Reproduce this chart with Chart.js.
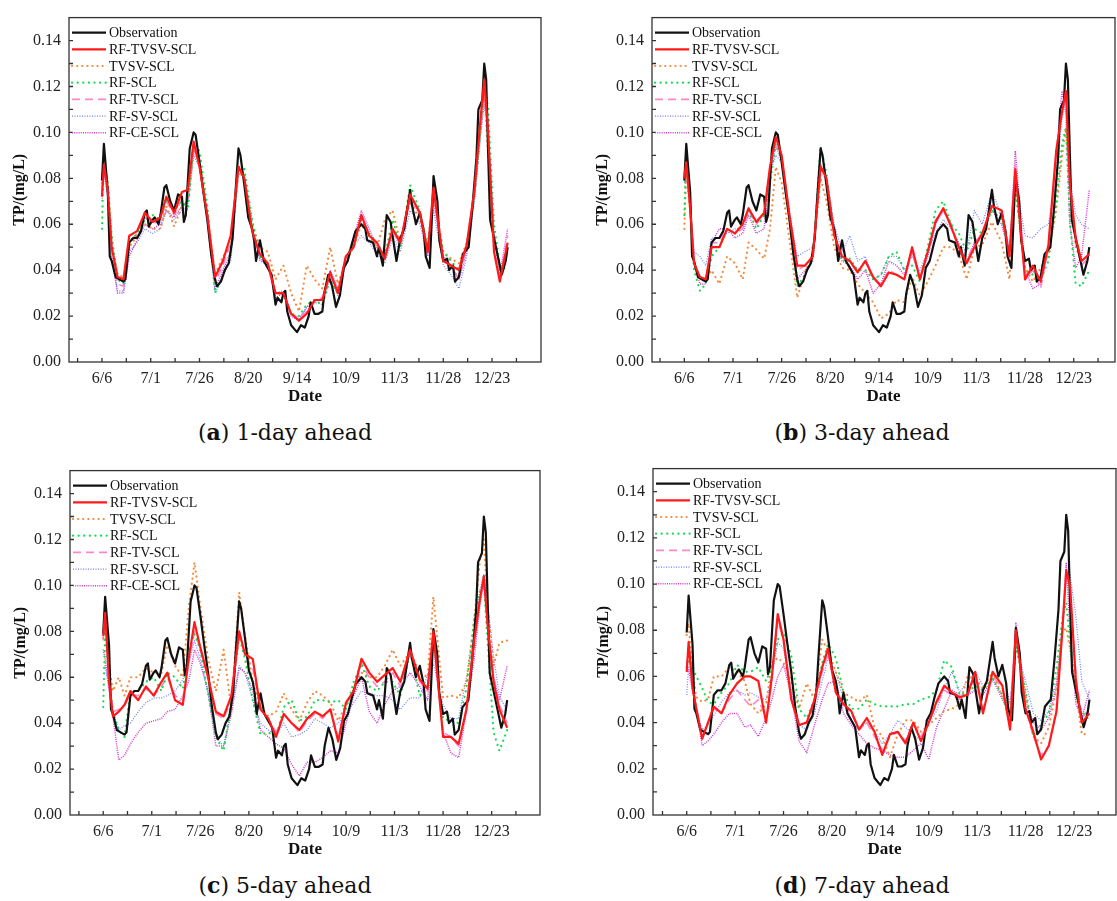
<!DOCTYPE html>
<html>
<head>
<meta charset="utf-8">
<script src="https://cdn.jsdelivr.net/npm/chart.js@4.4.0/dist/chart.umd.min.js"></script>
<style>
  body { margin: 0; background: #fff; width: 1117px; height: 901px; position: relative; overflow: hidden; }
  canvas { position: absolute; }
  .cap { position: absolute; font-family: 'DejaVu Serif', serif; font-size: 22px; color: #111;
         transform: translate(-50%, -50%); white-space: nowrap; }
</style>
</head>
<body>
<canvas id="pa"></canvas>
<canvas id="pb"></canvas>
<canvas id="pc"></canvas>
<canvas id="pd"></canvas>
<div class="cap" style="left:285px;top:432px">(<b>a</b>) 1-day ahead</div>
<div class="cap" style="left:862px;top:432px">(<b>b</b>) 3-day ahead</div>
<div class="cap" style="left:285px;top:885px">(<b>c</b>) 5-day ahead</div>
<div class="cap" style="left:862px;top:885px">(<b>d</b>) 7-day ahead</div>
<script>
// x values are days counted from 6/6
const tickDays = [0, 25, 50, 75, 100, 125, 150, 175, 200];
const tickLabels = ['6/6', '7/1', '7/26', '8/20', '9/14', '10/9', '11/3', '11/28', '12/23'];
const yTicks = [0, 0.02, 0.04, 0.06, 0.08, 0.10, 0.12, 0.14];

const obsDays = [0,1,3,4,5,7,9,11,12,13,14,16,18,20,22,23,24,26,27,29,30,32,33,35,37,39,41,42,43,45,47,48,50,52,54,56,58,59,61,63,65,67,68,70,71,73,75,77,78,79,81,83,85,87,89,90,92,93,94,95,97,99,100,102,104,106,107,109,111,113,114,116,118,120,122,124,126,128,130,133,135,136,139,141,142,144,146,148,149,151,153,155,158,159,161,163,165,166,168,169,170,172,173,175,177,178,180,181,183,185,188,190,192,193,195,196,197,198,199,201,203,205,207,208];
const obsVals = [0.079,0.095,0.074,0.046,0.044,0.037,0.036,0.035,0.036,0.044,0.052,0.054,0.054,0.057,0.065,0.066,0.059,0.062,0.063,0.060,0.064,0.076,0.077,0.070,0.066,0.073,0.072,0.061,0.064,0.093,0.100,0.099,0.087,0.074,0.062,0.047,0.036,0.033,0.035,0.040,0.043,0.054,0.068,0.093,0.090,0.077,0.063,0.058,0.053,0.044,0.053,0.044,0.041,0.038,0.025,0.028,0.026,0.030,0.031,0.022,0.016,0.014,0.013,0.016,0.015,0.020,0.026,0.021,0.021,0.022,0.030,0.038,0.033,0.024,0.029,0.041,0.044,0.051,0.057,0.060,0.058,0.053,0.052,0.046,0.050,0.042,0.064,0.061,0.055,0.044,0.054,0.058,0.075,0.068,0.060,0.065,0.057,0.046,0.041,0.060,0.081,0.070,0.053,0.044,0.045,0.040,0.042,0.035,0.037,0.047,0.050,0.068,0.089,0.110,0.114,0.130,0.123,0.091,0.062,0.054,0.046,0.038,0.044,0.050];

// days at which the model curves were read
const predDays = [0,1,3,5,8,11,14,18,22,26,30,33,37,41,44,47,50,54,58,62,66,70,73,77,81,85,89,93,97,101,105,109,113,117,121,125,129,133,137,141,145,149,153,158,163,167,170,175,179,183,187,191,194,196,198,201,204,208];

// (a) 1-day ahead
const aTVSV  = [0.072,0.086,0.075,0.050,0.037,0.036,0.055,0.057,0.065,0.061,0.063,0.072,0.065,0.074,0.075,0.096,0.085,0.064,0.037,0.044,0.055,0.085,0.080,0.057,0.047,0.043,0.030,0.030,0.021,0.018,0.021,0.027,0.027,0.039,0.030,0.046,0.050,0.064,0.055,0.052,0.045,0.058,0.052,0.073,0.065,0.048,0.076,0.044,0.042,0.040,0.051,0.075,0.105,0.123,0.100,0.048,0.035,0.052];
const aTVSVonly = [0.078,0.088,0.078,0.052,0.038,0.037,0.050,0.055,0.060,0.058,0.058,0.068,0.059,0.068,0.070,0.092,0.088,0.066,0.038,0.046,0.050,0.082,0.082,0.060,0.050,0.048,0.036,0.042,0.030,0.022,0.042,0.036,0.032,0.050,0.034,0.044,0.050,0.060,0.055,0.050,0.062,0.066,0.052,0.070,0.062,0.050,0.072,0.048,0.045,0.043,0.052,0.074,0.100,0.118,0.090,0.055,0.040,0.048];
const aSCL   = [0.058,0.089,0.078,0.055,0.036,0.034,0.052,0.056,0.062,0.064,0.062,0.070,0.066,0.070,0.066,0.094,0.092,0.068,0.030,0.038,0.046,0.085,0.084,0.062,0.046,0.043,0.030,0.030,0.021,0.020,0.025,0.027,0.025,0.036,0.030,0.045,0.052,0.062,0.056,0.052,0.046,0.062,0.050,0.077,0.066,0.050,0.074,0.048,0.044,0.040,0.050,0.072,0.100,0.124,0.110,0.060,0.042,0.040];
const aTV    = [0.075,0.085,0.073,0.048,0.034,0.033,0.052,0.056,0.063,0.060,0.062,0.070,0.064,0.071,0.072,0.094,0.086,0.064,0.035,0.042,0.052,0.084,0.080,0.058,0.046,0.042,0.029,0.030,0.021,0.019,0.022,0.026,0.028,0.038,0.030,0.045,0.052,0.062,0.056,0.050,0.046,0.056,0.052,0.070,0.064,0.047,0.072,0.045,0.042,0.036,0.050,0.074,0.102,0.118,0.098,0.050,0.036,0.055];
const aSV    = [0.070,0.082,0.072,0.045,0.031,0.031,0.048,0.052,0.058,0.056,0.058,0.066,0.062,0.066,0.068,0.090,0.085,0.062,0.030,0.038,0.044,0.082,0.080,0.058,0.044,0.042,0.030,0.031,0.021,0.019,0.024,0.026,0.025,0.036,0.029,0.043,0.050,0.055,0.052,0.047,0.043,0.054,0.048,0.066,0.060,0.046,0.066,0.042,0.038,0.032,0.046,0.070,0.098,0.112,0.100,0.055,0.040,0.050];
const aCE    = [0.074,0.084,0.072,0.046,0.030,0.030,0.046,0.053,0.060,0.058,0.060,0.066,0.063,0.068,0.070,0.092,0.086,0.062,0.032,0.040,0.048,0.083,0.080,0.058,0.045,0.042,0.028,0.030,0.020,0.018,0.024,0.026,0.028,0.040,0.032,0.044,0.054,0.066,0.058,0.050,0.046,0.058,0.050,0.072,0.064,0.046,0.070,0.046,0.042,0.036,0.048,0.072,0.100,0.115,0.100,0.055,0.038,0.058];

// (b) 3-day ahead
const bTVSV  = [0.080,0.087,0.067,0.043,0.037,0.036,0.050,0.050,0.058,0.056,0.060,0.067,0.061,0.065,0.085,0.098,0.090,0.064,0.042,0.042,0.046,0.085,0.080,0.055,0.046,0.044,0.039,0.044,0.037,0.033,0.039,0.038,0.036,0.050,0.036,0.048,0.061,0.067,0.059,0.050,0.043,0.050,0.056,0.068,0.066,0.046,0.084,0.036,0.042,0.035,0.051,0.092,0.109,0.118,0.078,0.054,0.044,0.047];
const bTVSVonly = [0.058,0.085,0.065,0.042,0.037,0.036,0.040,0.034,0.046,0.043,0.036,0.052,0.049,0.045,0.058,0.085,0.078,0.053,0.028,0.039,0.047,0.080,0.070,0.050,0.041,0.040,0.034,0.030,0.026,0.019,0.021,0.027,0.026,0.037,0.029,0.035,0.042,0.050,0.050,0.047,0.036,0.050,0.051,0.061,0.052,0.036,0.076,0.041,0.035,0.041,0.047,0.066,0.090,0.102,0.081,0.050,0.044,0.043];
const bSCL   = [0.064,0.090,0.070,0.040,0.031,0.034,0.046,0.050,0.058,0.056,0.060,0.066,0.058,0.064,0.078,0.095,0.088,0.062,0.033,0.038,0.045,0.094,0.082,0.056,0.044,0.045,0.040,0.040,0.036,0.038,0.046,0.048,0.040,0.042,0.035,0.050,0.066,0.070,0.060,0.056,0.048,0.058,0.056,0.066,0.062,0.048,0.076,0.040,0.038,0.036,0.044,0.070,0.095,0.102,0.062,0.034,0.033,0.040];
const bTV    = [0.082,0.086,0.068,0.044,0.035,0.036,0.052,0.052,0.058,0.056,0.058,0.066,0.060,0.064,0.084,0.096,0.090,0.064,0.040,0.042,0.046,0.086,0.080,0.056,0.046,0.044,0.040,0.044,0.036,0.034,0.040,0.038,0.036,0.048,0.036,0.048,0.062,0.066,0.060,0.050,0.044,0.052,0.056,0.068,0.064,0.046,0.086,0.036,0.040,0.032,0.050,0.090,0.110,0.116,0.076,0.052,0.042,0.046];
const bSV    = [0.078,0.082,0.070,0.048,0.046,0.042,0.054,0.054,0.056,0.058,0.058,0.064,0.062,0.064,0.082,0.090,0.087,0.066,0.046,0.048,0.050,0.082,0.080,0.060,0.048,0.055,0.044,0.046,0.036,0.038,0.046,0.046,0.040,0.046,0.040,0.048,0.056,0.062,0.058,0.052,0.048,0.066,0.060,0.074,0.064,0.050,0.080,0.055,0.054,0.058,0.060,0.080,0.106,0.116,0.080,0.064,0.060,0.058];
const bCE    = [0.082,0.084,0.066,0.044,0.034,0.034,0.052,0.058,0.058,0.054,0.056,0.064,0.056,0.058,0.082,0.094,0.088,0.062,0.036,0.040,0.044,0.086,0.080,0.056,0.044,0.042,0.036,0.040,0.030,0.034,0.044,0.042,0.038,0.048,0.036,0.046,0.060,0.066,0.060,0.048,0.044,0.052,0.056,0.066,0.060,0.046,0.092,0.040,0.032,0.034,0.050,0.090,0.118,0.108,0.060,0.041,0.046,0.075];

// (c) 5-day ahead
const cTVSV  = [0.078,0.088,0.058,0.043,0.045,0.048,0.054,0.050,0.056,0.052,0.058,0.062,0.050,0.048,0.068,0.084,0.073,0.060,0.045,0.043,0.052,0.080,0.070,0.068,0.046,0.042,0.034,0.044,0.040,0.037,0.042,0.045,0.043,0.046,0.032,0.049,0.054,0.068,0.062,0.058,0.061,0.064,0.058,0.072,0.059,0.055,0.080,0.034,0.034,0.031,0.046,0.076,0.094,0.104,0.082,0.058,0.046,0.038];
const cTVSVonly = [0.077,0.088,0.065,0.054,0.060,0.052,0.060,0.060,0.064,0.062,0.062,0.074,0.065,0.060,0.090,0.110,0.091,0.068,0.054,0.072,0.046,0.097,0.078,0.058,0.047,0.043,0.045,0.053,0.046,0.041,0.049,0.054,0.052,0.049,0.041,0.048,0.055,0.062,0.060,0.060,0.065,0.072,0.065,0.071,0.062,0.060,0.095,0.051,0.052,0.051,0.058,0.085,0.111,0.120,0.090,0.065,0.075,0.076];
const cSCL   = [0.047,0.080,0.060,0.045,0.037,0.034,0.054,0.054,0.058,0.060,0.054,0.062,0.060,0.055,0.072,0.079,0.072,0.053,0.034,0.028,0.050,0.078,0.068,0.050,0.035,0.036,0.034,0.047,0.050,0.041,0.043,0.050,0.050,0.049,0.050,0.046,0.058,0.066,0.056,0.054,0.058,0.058,0.052,0.071,0.052,0.056,0.076,0.042,0.041,0.040,0.055,0.085,0.098,0.100,0.075,0.036,0.028,0.037];
const cTV    = [0.076,0.086,0.060,0.045,0.046,0.048,0.052,0.052,0.055,0.052,0.056,0.060,0.052,0.050,0.066,0.080,0.072,0.060,0.044,0.042,0.050,0.078,0.070,0.064,0.046,0.042,0.036,0.044,0.040,0.036,0.041,0.044,0.042,0.046,0.034,0.048,0.054,0.066,0.060,0.056,0.058,0.062,0.056,0.070,0.058,0.054,0.078,0.036,0.034,0.030,0.046,0.074,0.094,0.102,0.084,0.060,0.048,0.040];
const cSV    = [0.064,0.065,0.055,0.045,0.037,0.039,0.040,0.045,0.049,0.051,0.051,0.052,0.054,0.059,0.066,0.076,0.068,0.053,0.034,0.030,0.046,0.065,0.062,0.050,0.040,0.037,0.035,0.040,0.034,0.035,0.037,0.042,0.040,0.038,0.040,0.044,0.049,0.054,0.053,0.052,0.052,0.050,0.046,0.051,0.051,0.061,0.066,0.048,0.042,0.042,0.060,0.078,0.098,0.105,0.092,0.069,0.052,0.045];
const cCE    = [0.072,0.068,0.055,0.043,0.024,0.026,0.031,0.036,0.040,0.041,0.042,0.045,0.046,0.052,0.058,0.072,0.066,0.054,0.030,0.030,0.044,0.064,0.062,0.054,0.037,0.034,0.031,0.029,0.022,0.017,0.023,0.023,0.025,0.028,0.027,0.040,0.052,0.060,0.045,0.040,0.048,0.054,0.056,0.062,0.056,0.050,0.074,0.036,0.027,0.025,0.045,0.068,0.092,0.102,0.082,0.060,0.050,0.065];

// (d) 7-day ahead
const dTVSV  = [0.062,0.075,0.055,0.046,0.033,0.040,0.047,0.044,0.052,0.057,0.060,0.060,0.058,0.040,0.060,0.087,0.076,0.050,0.039,0.040,0.050,0.064,0.072,0.053,0.048,0.045,0.037,0.042,0.036,0.026,0.035,0.036,0.031,0.040,0.032,0.040,0.049,0.056,0.053,0.051,0.052,0.062,0.044,0.062,0.056,0.037,0.080,0.046,0.036,0.024,0.030,0.045,0.080,0.106,0.099,0.058,0.040,0.044];
const dTVSVonly = [0.078,0.083,0.062,0.051,0.049,0.050,0.060,0.060,0.064,0.062,0.058,0.048,0.044,0.048,0.066,0.068,0.066,0.058,0.046,0.057,0.050,0.076,0.071,0.062,0.053,0.051,0.049,0.052,0.038,0.034,0.025,0.035,0.041,0.041,0.036,0.039,0.042,0.045,0.046,0.048,0.060,0.059,0.055,0.062,0.051,0.046,0.076,0.052,0.034,0.031,0.038,0.055,0.079,0.081,0.072,0.054,0.035,0.035];
const dSCL   = [0.064,0.067,0.064,0.060,0.055,0.049,0.048,0.053,0.057,0.065,0.062,0.062,0.064,0.058,0.064,0.076,0.079,0.069,0.046,0.042,0.050,0.066,0.074,0.068,0.053,0.046,0.046,0.050,0.048,0.047,0.047,0.047,0.048,0.048,0.050,0.051,0.054,0.067,0.064,0.052,0.053,0.056,0.054,0.059,0.052,0.040,0.073,0.054,0.035,0.039,0.044,0.064,0.085,0.092,0.074,0.052,0.045,0.041];
const dTV    = [0.064,0.074,0.056,0.046,0.034,0.040,0.046,0.044,0.050,0.054,0.050,0.047,0.050,0.042,0.058,0.084,0.076,0.052,0.040,0.040,0.048,0.062,0.070,0.054,0.048,0.044,0.037,0.040,0.034,0.028,0.034,0.036,0.032,0.040,0.034,0.040,0.048,0.054,0.052,0.050,0.052,0.060,0.046,0.060,0.055,0.040,0.082,0.046,0.034,0.026,0.030,0.046,0.080,0.105,0.098,0.060,0.042,0.046];
const dSV    = [0.052,0.064,0.058,0.046,0.037,0.039,0.043,0.049,0.053,0.054,0.052,0.053,0.051,0.050,0.060,0.075,0.072,0.054,0.039,0.037,0.044,0.058,0.068,0.062,0.050,0.041,0.037,0.040,0.036,0.031,0.035,0.041,0.038,0.035,0.032,0.040,0.045,0.055,0.062,0.053,0.058,0.062,0.056,0.058,0.064,0.048,0.073,0.058,0.044,0.041,0.045,0.058,0.078,0.103,0.104,0.086,0.058,0.050];
const dCE    = [0.062,0.063,0.054,0.046,0.030,0.032,0.035,0.040,0.044,0.044,0.038,0.039,0.034,0.042,0.050,0.060,0.065,0.052,0.032,0.027,0.039,0.050,0.057,0.058,0.044,0.039,0.035,0.031,0.029,0.028,0.026,0.025,0.025,0.028,0.031,0.024,0.038,0.046,0.054,0.052,0.052,0.054,0.052,0.059,0.050,0.044,0.083,0.050,0.040,0.037,0.042,0.056,0.082,0.109,0.079,0.048,0.042,0.054];

const names = ['Observation', 'RF-TVSV-SCL', 'TVSV-SCL', 'RF-SCL', 'RF-TV-SCL', 'RF-SV-SCL', 'RF-CE-SCL'];
const looks = [
  { color: '#111111', width: 2.2, dash: [], cap: 'butt', order: 1 },
  { color: '#ff1a1a', width: 2.2, dash: [], cap: 'butt', order: 0 },
  { color: '#f58a3c', width: 2.2, dash: [0.1, 5], cap: 'round', order: 3 },
  { color: '#14dc50', width: 2.2, dash: [0.1, 5.5], cap: 'round', order: 2 },
  { color: '#ff86cc', width: 1.6, dash: [8, 5], cap: 'butt', order: 4 },
  { color: '#6d7dff', width: 1.2, dash: [1, 1.5], cap: 'butt', order: 5 },
  { color: '#d23ad2', width: 1.5, dash: [1, 1.2], cap: 'butt', order: 6 }
];

const xMarks = [-12.5, 0, 12.5, 25, 37.5, 50, 62.5, 75, 87.5, 100, 112.5, 125, 137.5, 150, 162.5, 175, 187.5, 200, 212.5];
const yMarks = [0.01, 0.02, 0.03, 0.04, 0.05, 0.06, 0.07, 0.08, 0.09, 0.10, 0.11, 0.12, 0.13, 0.14];

const serif = "'Liberation Serif', 'Times New Roman', serif";

const frameAndLegend = {
  id: 'frameAndLegend',
  afterDraw(chart) {
    const { ctx, chartArea: a, scales: { x, y } } = chart;
    ctx.save();
    ctx.setLineDash([]);
    ctx.strokeStyle = '#333';
    ctx.lineWidth = 1.3;
    ctx.strokeRect(a.left, a.top, a.right - a.left, a.bottom - a.top);
    ctx.beginPath();
    yMarks.forEach(v => {
      const py = y.getPixelForValue(v);
      ctx.moveTo(a.left, py); ctx.lineTo(a.left + 4, py);
    });
    xMarks.forEach(v => {
      const px = x.getPixelForValue(v);
      if (px > a.left + 1 && px < a.right - 1) { ctx.moveTo(px, a.bottom); ctx.lineTo(px, a.bottom - 4); }
    });
    ctx.stroke();

    // legend inside the top left corner
    ctx.font = '14px ' + serif;
    ctx.textBaseline = 'middle';
    ctx.fillStyle = '#111';
    names.forEach((n, i) => {
      const lk = looks[i];
      const ly = a.top + 15 + i * 16.7;
      ctx.beginPath();
      ctx.strokeStyle = lk.color;
      ctx.lineWidth = lk.width;
      ctx.lineCap = lk.cap;
      ctx.setLineDash(lk.dash);
      ctx.moveTo(a.left + 3, ly);
      ctx.lineTo(a.left + 37, ly);
      ctx.stroke();
      ctx.fillText(n, a.left + 40, ly + 1);
    });
    ctx.restore();
  }
};

function pts(days, vals) {
  return days.map((d, i) => ({ x: d, y: vals[i] }));
}

function panel(id, box, preds) {
  const cv = document.getElementById(id);
  cv.width = box.w; cv.height = box.h;
  cv.style.left = box.left + 'px';
  cv.style.top = box.top + 'px';
  const series = [pts(obsDays, obsVals)].concat(preds.map(p => pts(predDays, p)));
  new Chart(cv.getContext('2d'), {
    type: 'line',
    data: {
      datasets: series.map((s, i) => ({
        label: names[i],
        data: s,
        borderColor: looks[i].color,
        borderWidth: looks[i].width,
        borderDash: looks[i].dash,
        borderCapStyle: looks[i].cap,
        borderJoinStyle: 'round',
        order: looks[i].order,
        pointRadius: 0,
        tension: 0,
        fill: false
      }))
    },
    options: {
      responsive: false,
      animation: false,
      events: [],
      layout: { padding: { top: 9, right: box.padRight, bottom: 0, left: 0 } },
      plugins: { legend: { display: false }, tooltip: { enabled: false } },
      scales: {
        x: {
          type: 'linear',
          min: box.xMin,
          max: box.xMax,
          grid: { display: false, drawTicks: false },
          border: { display: false },
          afterBuildTicks: s => { s.ticks = tickDays.map(v => ({ value: v })); },
          afterFit: s => { s.height = 50; },
          ticks: {
            autoSkip: false,
            maxRotation: 0,
            padding: 7,
            color: '#222',
            font: { family: serif, size: 16 },
            callback: (v, i) => tickLabels[i]
          },
          title: {
            display: true,
            text: 'Date',
            color: '#111',
            font: { family: serif, size: 17, weight: 'bold' },
            padding: { top: 0, bottom: 5 }
          }
        },
        y: {
          min: 0,
          max: 0.15,
          grid: { display: false, drawTicks: false },
          border: { display: false },
          afterBuildTicks: s => { s.ticks = yTicks.map(v => ({ value: v })); },
          afterFit: s => { s.width = 69; },
          ticks: {
            padding: 8,
            color: '#222',
            font: { family: serif, size: 16 },
            callback: v => v.toFixed(2)
          },
          title: {
            display: true,
            text: 'TP/(mg/L)',
            color: '#111',
            font: { family: serif, size: 16, weight: 'bold' },
            padding: { top: 10, bottom: 0 }
          }
        }
      }
    },
    plugins: [frameAndLegend]
  });
}

panel('pa', { left: 0, top: 0, w: 545, h: 412, padRight: 4, xMin: -16.9, xMax: 225.1 },
  [aTVSV, aTVSVonly, aSCL, aTV, aSV, aCE]);
panel('pb', { left: 583, top: 0, w: 534, h: 412, padRight: 2, xMin: -16.6, xMax: 221.2 },
  [bTVSV, bTVSVonly, bSCL, bTV, bSV, bCE]);
panel('pc', { left: 1, top: 453, w: 543, h: 412, padRight: 4, xMin: -17.1, xMax: 224.9 },
  [cTVSV, cTVSVonly, cSCL, cTV, cSV, cCE]);
panel('pd', { left: 584, top: 451, w: 533, h: 414, padRight: 1, xMin: -17.4, xMax: 221.7 },
  [dTVSV, dTVSVonly, dSCL, dTV, dSV, dCE]);
</script>
</body>
</html>
